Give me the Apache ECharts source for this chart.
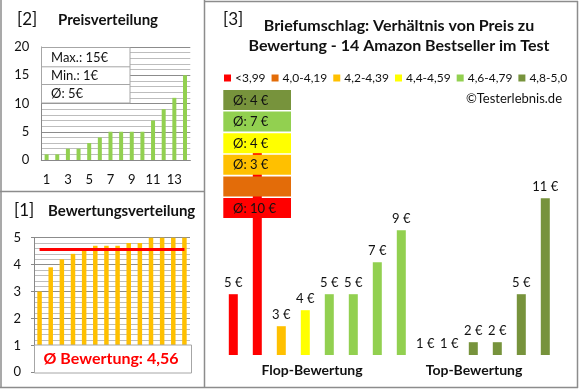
<!DOCTYPE html>
<html><head><meta charset="utf-8">
<script src="https://cdn.jsdelivr.net/npm/echarts@6/dist/echarts.min.js"></script>
<style>html,body{margin:0;padding:0;background:#fff}#c{width:580px;height:390px}</style>
</head><body><div id="c"></div>
<script>
// ---- data ----
const priceCats = ['1','2','3','4','5','6','7','8','9','10','11','12','13','14'];
const prices = [1,1,2,2,3,4,5,5,5,5,7,9,11,15];
const ratingCats = ['1','2','3','4','5','6','7','8','9','10','11','12','13','14'];
const ratings = [3.0,3.9,4.2,4.4,4.55,4.7,4.7,4.7,4.8,4.8,5.0,5.0,5.0,5.0];
const avgRating = 4.56;
const productPrices = [5,15,3,4,5,5,7,9,1,1,2,2,5,11];
const productClass = [0,0,2,3,4,4,4,4,5,5,5,5,5,5];
const classNames = ['<3,99','4,0-4,19','4,2-4,39','4,4-4,59','4,6-4,79','4,8-5,0'];
const classColors = ['#FF0000','#E36C09','#FFC000','#FFFF00','#92D050','#77933C'];
const groupLabels = ['Flop-Bewertung','Top-Bewertung'];

const FONT = 'Lato, "Open Sans", sans-serif';
const TXT = '#111';
const BORDER = '#8c8c8c';

const maxP = Math.max(...prices), minP = Math.min(...prices);
const avgP = Math.round(prices.reduce((a,b)=>a+b,0)/prices.length);

const rightMin = 1.2;

const rightSeries = classNames.map((name, ci) => ({
  name: name, type: 'bar', xAxisIndex: 2, yAxisIndex: 2,
  barWidth: 9, barGap: '-100%',
  itemStyle: {color: classColors[ci]},
  label: {show: true, position: 'top', distance: 5, formatter: '{c} €',
          fontFamily: FONT, fontSize: 13, color: TXT},
  data: productPrices.map((v,i) => productClass[i] === ci ? v : null)
}));

const classAvg = classNames.map((n, ci) => {
  const vals = productPrices.filter((v,i) => productClass[i] === ci);
  return vals.length ? Math.round(vals.reduce((a,b)=>a+b,0)/vals.length) : null;
});

const graphics = [];
function line(x1,y1,x2,y2,c,w){graphics.push({type:'line',z:200,shape:{x1,y1,x2,y2},style:{stroke:c||BORDER,lineWidth:w||1.5}});}
function text(x,y,t,opt){graphics.push(Object.assign({type:'text',z:200,x,y,style:Object.assign({text:t,fontFamily:FONT,fontSize:13,fill:TXT,textVerticalAlign:'middle'},opt||{})}));}
function rect(x,y,w,h,fill,stroke){graphics.push({type:'rect',z:150,shape:{x,y,width:w,height:h},style:{fill:fill,stroke:stroke||null,lineWidth:1}});}

// panel borders
line(1,0,1,388); line(0,387.5,578,387.5); line(577.5,1,577.5,388);
line(205,1.5,578,1.5); line(204.5,0,204.5,388); line(0,191.5,205,191.5);

// titles
text(17,20,'[2]',{fontSize:17});
text(58,20,'Preisverteilung',{fontSize:15,fontWeight:'bold'});
text(14,211,'[1]',{fontSize:17});
text(48,211,'Bewertungsverteilung',{fontSize:15,fontWeight:'bold'});
text(223,20,'[3]',{fontSize:17});
text(399,26,'Briefumschlag: Verhältnis von Preis zu',{fontSize:16,fontWeight:'bold',textAlign:'center'});
text(399,45.5,'Bewertung - 14 Amazon Bestseller im Test',{fontSize:16,fontWeight:'bold',textAlign:'center'});
text(562,98.5,'©Testerlebnis.de',{textAlign:'right'});
text(312,370,groupLabels[0],{fontSize:14,fontWeight:'bold',textAlign:'center'});
text(474,370,groupLabels[1],{fontSize:14,fontWeight:'bold',textAlign:'center'});

// price info box
rect(41.5,47.5,88.5,55.5,'#fff','#a6a6a6');
line(41.5,66.8,130,66.8,'#a6a6a6',1); line(41.5,84.5,130,84.5,'#a6a6a6',1);
text(51,58,'Max.: '+maxP+'€');
text(51,76,'Min.: '+minP+'€');
text(51,94,'Ø: '+avgP+'€');

// rating avg box
rect(34.5,345,157,28,'#fff','#a6a6a6');
text(111,359,'Ø Bewertung: '+avgRating.toFixed(2).replace('.',','),{fontSize:16,fontWeight:'bold',fill:'#FF0000',textAlign:'center'});

// class average stack boxes (top: best class)
for (let k = 0; k < classNames.length; k++) {
  const ci = classNames.length - 1 - k;
  const y = 90 + k*21.6;
  rect(223.3,y,67.7,20,classColors[ci],null);
  if (classAvg[ci] !== null) text(233,y+10.5,'Ø: '+classAvg[ci]+' €');
}

const axLbl = {fontFamily: FONT, fontSize: 13, color: TXT};

const option = {
  animation: false,
  legend: {
    data: classNames, left: 219, top: 67, width: 400, icon: 'rect', itemWidth: 7, itemHeight: 7,
    itemGap: 6, textStyle: {fontFamily: FONT, fontSize: 12, color: TXT, padding:[0,0,0,-1]}, selectedMode: false
  },
  grid: [
    {left: 41.3, top: 47, width: 149, height: 113},
    {left: 34, top: 237.7, width: 156, height: 134.6},
    {left: 221.3, top: 118.2, width: 336, height: 236.8}
  ],
  xAxis: [
    {type:'category', gridIndex:0, data: priceCats, axisTick:{show:false},
     axisLine:{lineStyle:{color:'#888'}}, axisLabel:Object.assign({interval:1, margin:13}, axLbl)},
    {type:'category', gridIndex:1, data: ratingCats, axisTick:{show:false},
     axisLine:{lineStyle:{color:'#888'}}, axisLabel:{show:false}},
    {type:'category', gridIndex:2, data: productPrices.map((v,i)=>String(i+1)), show:false}
  ],
  yAxis: [
    {type:'value', gridIndex:0, min:0, max:20, interval:5,
     axisLine:{show:true, lineStyle:{color:'#888'}}, axisTick:{show:false},
     axisLabel:Object.assign({margin:12}, axLbl),
     splitLine:{lineStyle:{color:'#8c8c8c'}},
     minorTick:{show:false, splitNumber:5}, minorSplitLine:{show:true, lineStyle:{color:'#bdbdbd'}}},
    {type:'value', gridIndex:1, min:0, max:5, interval:1,
     axisLine:{show:true, lineStyle:{color:'#888'}}, axisTick:{show:true, length:3, lineStyle:{color:'#888'}},
     axisLabel:Object.assign({margin:13}, axLbl),
     splitLine:{lineStyle:{color:'#8c8c8c'}},
     minorTick:{show:false, splitNumber:5}, minorSplitLine:{show:true, lineStyle:{color:'#bdbdbd'}}},
    {type:'value', gridIndex:2, min:rightMin, max:16, startValue: rightMin, show:false, splitLine:{show:false}}
  ],
  series: [
    {type:'bar', xAxisIndex:0, yAxisIndex:0, data: prices, barWidth:4, itemStyle:{color:'#92D050'}},
    {type:'bar', xAxisIndex:1, yAxisIndex:1, data: ratings, barWidth:4.5, itemStyle:{color:'#FFC000'},
     markLine:{silent:true, symbol:'none', label:{show:false}, lineStyle:{color:'#FF0000', width:3, type:'solid'},
       data:[[{coord:[0, avgRating]},{coord:[ratingCats.length-1, avgRating]}]]}}
  ].concat(rightSeries),
  graphic: graphics
};
const chart = echarts.init(document.getElementById('c'), null, {renderer:'canvas'});
chart.setOption(option);
</script>
</body></html>
